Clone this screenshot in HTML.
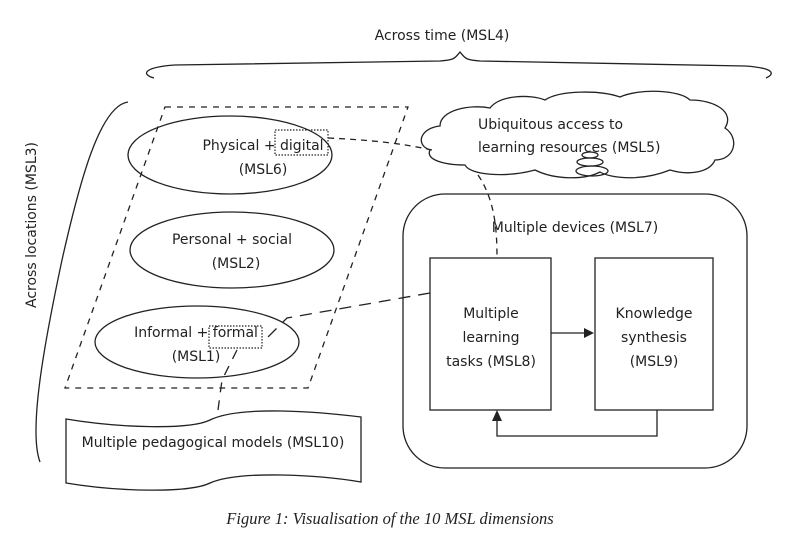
<!DOCTYPE html>
<html><head><meta charset="utf-8"><style>
html,body{margin:0;padding:0;background:#fff;}
svg{display:block;}
text{font-family:"DejaVu Sans","Liberation Sans",sans-serif;font-size:14px;fill:#222;}
</style></head><body>
<svg width="790" height="534" viewBox="0 0 790 534" xmlns="http://www.w3.org/2000/svg">
<g fill="none" stroke="#222" stroke-width="1.3">
<path d="M154,78 C140,74 145,67 175,65 L440,61 C455,60 455,58 460,52 C465,58 465,60 480,61 L745,66 C775,68 775,74 766,78"/>
<path d="M128,102 C100,106 80,180 62,260 C45,340 28,430 40,462"/>
<path d="M165,107 L408,107 L308,388 L65,388 Z" stroke-dasharray="6,6"/>
<ellipse cx="230" cy="155" rx="102" ry="39"/>
<ellipse cx="232" cy="250" rx="102" ry="38"/>
<ellipse cx="197" cy="342" rx="102" ry="36"/>
<rect x="275" y="130" width="53" height="25" stroke-dasharray="1.5,1.5" stroke-width="1.2"/>
<rect x="209" y="326" width="53" height="22" stroke-dasharray="1.5,1.5" stroke-width="1.2"/>
<path d="M328,138 C370,140 400,143 432,150" stroke-dasharray="6,5"/>
<path d="M478,175 C495,200 497,230 497,258" stroke-dasharray="6,5"/>
<path d="M430,293 L287,318 L265,340" stroke-dasharray="12,8"/>
<path d="M237,350 L222,380 L218,410" stroke-dasharray="10,8"/>
<path d="M430,150 C415,145 420,128 440,126 C440,110 470,104 490,108 C500,95 530,94 545,100 C560,90 600,90 620,97 C640,88 680,90 690,100 C715,100 735,112 725,128 C740,138 735,160 715,160 C710,172 690,176 670,170 C640,182 610,178 600,172 C585,180 555,180 535,170 C505,178 470,175 465,165 C445,165 425,160 430,150 Z"/>
<ellipse cx="592" cy="171" rx="16" ry="5"/>
<ellipse cx="590" cy="162" rx="13" ry="4"/>
<ellipse cx="590" cy="155" rx="8" ry="3"/>
<rect x="403" y="194" width="344" height="274" rx="42" ry="42"/>
<rect x="430" y="258" width="121" height="152"/>
<rect x="595" y="258" width="118" height="152"/>
<path d="M551,333 L585,333"/>
<path d="M657,410 L657,436 L497,436 L497,420"/>
<path d="M66,419 C120,428 190,430 210,420 C240,405 320,412 361,417 L361,482 C320,475 240,470 210,483 C190,493 120,492 66,483 Z"/>
</g>
<polygon points="594,333 584,328 584,338" fill="#222"/>
<polygon points="497,410 492,421 502,421" fill="#222"/>
<text x="442" y="40" text-anchor="middle" font-size="15">Across time (MSL4)</text>
<text transform="translate(36,225) rotate(-90)" text-anchor="middle" font-size="15">Across locations (MSL3)</text>
<text x="263" y="150" text-anchor="middle">Physical + digital</text>
<text x="263" y="174" text-anchor="middle">(MSL6)</text>
<text x="232" y="244" text-anchor="middle">Personal + social</text>
<text x="236" y="268" text-anchor="middle">(MSL2)</text>
<text x="196" y="337" text-anchor="middle">Informal + formal</text>
<text x="196" y="361" text-anchor="middle">(MSL1)</text>
<text x="478" y="129">Ubiquitous access to</text>
<text x="478" y="152">learning resources (MSL5)</text>
<text x="575" y="232" text-anchor="middle" font-size="15">Multiple devices (MSL7)</text>
<text x="491" y="318" text-anchor="middle">Multiple</text>
<text x="491" y="342" text-anchor="middle">learning</text>
<text x="491" y="366" text-anchor="middle">tasks (MSL8)</text>
<text x="654" y="318" text-anchor="middle">Knowledge</text>
<text x="654" y="342" text-anchor="middle">synthesis</text>
<text x="654" y="366" text-anchor="middle">(MSL9)</text>
<text x="213" y="447" text-anchor="middle">Multiple pedagogical models (MSL10)</text>
<text x="390" y="524" text-anchor="middle" style="font-family:'Liberation Serif',serif;font-style:italic;font-size:16.5px">Figure 1:  Visualisation of the 10 MSL dimensions</text>
</svg>
</body></html>
